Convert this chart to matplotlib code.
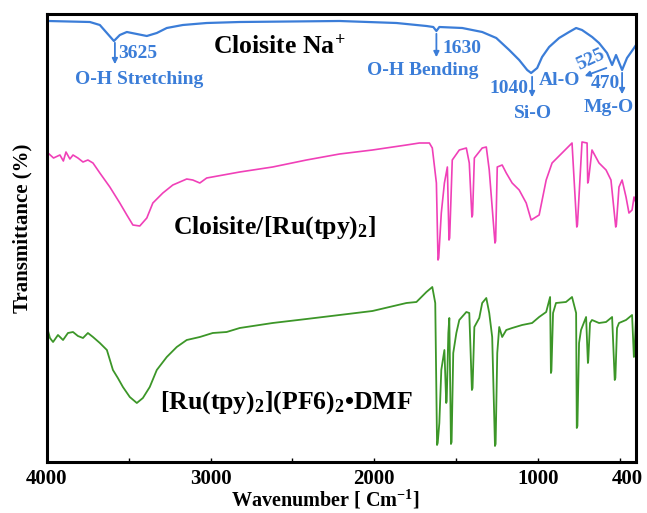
import matplotlib
matplotlib.use("Agg")
import matplotlib.pyplot as plt
import matplotlib.transforms as mtransforms
from matplotlib.ticker import FixedLocator

plt.rcParams['font.family'] = ['Liberation Serif', 'DejaVu Serif']
plt.rcParams['font.weight'] = 'bold'
plt.rcParams['mathtext.fontset'] = 'custom'
plt.rcParams['mathtext.rm'] = 'Liberation Serif:bold'
plt.rcParams['mathtext.it'] = 'Liberation Serif:bold'
plt.rcParams['mathtext.bf'] = 'Liberation Serif:bold'

# ---- data (wavenumber cm^-1, offset transmittance, arbitrary units) ----
wn_cloisite = [3994, 3738, 3677, 3634, 3591, 3555, 3512, 3451, 3390, 3329, 3268, 3170,
               3024, 2822, 2212, 1864, 1681, 1639, 1620, 1602, 1462, 1340, 1254, 1175,
               1114, 1065, 1041, 1004, 974, 931, 870, 809, 766, 730, 668, 626, 577,
               546, 522, 485, 455, 412, 400]
t_cloisite = [442, 441, 438, 430, 422, 428, 431, 429, 427, 430, 435, 438,
              440, 441, 442, 440, 437, 436, 432, 436, 435, 431, 425, 413,
              403, 393, 390, 395, 406, 416, 425, 431, 435, 433, 426, 420, 410,
              398, 408, 393, 405, 415, 418]

wn_ru_clay = [3994, 3960, 3921, 3900, 3884, 3860, 3841, 3811, 3780, 3750, 3719, 3677,
              3616, 3555, 3512, 3475, 3433, 3390, 3353, 3292, 3231, 3146, 3109, 3066,
              3024, 2822, 2621, 2414, 2212, 2011, 1803, 1724, 1663, 1645, 1620, 1610,
              1606, 1590, 1571, 1553, 1543, 1539, 1523, 1480, 1437, 1419, 1403, 1399,
              1388, 1340, 1315, 1297, 1262, 1258, 1248, 1218, 1193, 1157, 1114, 1071,
              1041, 992, 949, 913, 852, 791, 762, 758, 730, 699, 695, 691, 669, 626,
              583, 553, 524, 520, 504, 485, 461, 443, 424, 412, 400]
t_ru_clay = [310, 305, 308, 302, 311, 304, 308, 305, 301, 303, 300, 290,
             276, 260, 248, 238, 237, 245, 260, 270, 278, 284, 283, 280,
             285, 291, 296, 303, 309, 313, 318, 320, 320, 315, 280, 203,
             205, 250, 280, 296, 223, 225, 303, 313, 315, 300, 246, 248,
             305, 315, 316, 293, 220, 222, 296, 298, 290, 280, 273, 260,
             243, 248, 283, 300, 310, 320, 236, 238, 321, 320, 280, 282, 313, 300,
             293, 283, 236, 238, 276, 283, 266, 250, 253, 266, 260]

wn_ru_complex = [4000, 3982, 3963, 3933, 3902, 3872, 3841, 3811, 3780, 3750, 3719, 3677,
                 3634, 3597, 3567, 3536, 3494, 3451, 3414, 3372, 3329, 3268, 3207, 3146,
                 3066, 2987, 2902, 2822, 2621, 2414, 2212, 2011, 1803, 1742, 1681, 1645,
                 1627, 1616, 1612, 1602, 1590, 1571, 1560, 1557, 1547, 1541, 1531, 1527,
                 1517, 1498, 1480, 1437, 1419, 1403, 1399, 1388, 1358, 1340, 1315, 1297,
                 1279, 1262, 1258, 1248, 1236, 1218, 1193, 1157, 1096, 1035, 992, 949,
                 925, 920, 917, 907, 889, 828, 791, 766, 762, 758, 748, 736, 705,
                 694, 692, 681, 669, 626, 583, 546, 530, 526, 516, 504, 461, 424,
                 413, 410, 400]
t_ru_complex = [136, 125, 121, 128, 123, 130, 131, 127, 125, 130, 126, 120,
                113, 93, 85, 76, 66, 60, 65, 76, 93, 106, 116, 123,
                126, 130, 131, 135, 140, 144, 148, 152, 160, 161, 171, 176,
                160, 18, 20, 40, 93, 113, 60, 62, 130, 145, 19, 21,
                110, 130, 143, 151, 150, 73, 75, 136, 145, 160, 165, 150,
                126, 17, 19, 110, 136, 126, 133, 135, 138, 140, 146, 151,
                166, 90, 92, 150, 160, 161, 166, 150, 35, 37, 120, 133, 146,
                100, 102, 140, 143, 140, 141, 146, 83, 85, 135, 140, 143, 148,
                106, 108, 145]

x_ticks = [4000, 3000, 2000, 1000, 400]
x_minor = [3500, 2500, 1500, 500]

fig = plt.figure(figsize=(6.47, 5.13), dpi=100)
ax = fig.add_axes([47/647, 51/513, 589/647, 448/513])

blue = '#3B7DD8'
ax.plot(wn_cloisite, t_cloisite, color=blue, lw=1.6)
ax.plot(wn_ru_clay, t_ru_clay, color='#F040B8', lw=1.2)
ax.plot(wn_ru_complex, t_ru_complex, color='#3C9628', lw=1.3)

ax.set_xlim(4000, 400)
ax.set_ylim(1, 449)
ax.set_yticks([])
ax.xaxis.set_major_locator(FixedLocator(x_ticks))
ax.xaxis.set_minor_locator(FixedLocator(x_minor))
ax.set_xticklabels([str(v) for v in x_ticks])
ax.tick_params(axis='x', which='both', direction='in', length=3, width=1,
               labelsize=15, pad=5)
for s in ax.spines.values():
    s.set_linewidth(2.2)

# shift the last tick label ("400") slightly left so it stays inside the figure
last = ax.get_xticklabels()[-1]
last.set_transform(last.get_transform() +
                   mtransforms.ScaledTranslation(-9/100, 0, fig.dpi_scale_trans))

# annotations for Cloisite Na+
tfs = 14
ak = dict(arrowstyle='-|>', color=blue, lw=1.3, mutation_scale=8)
ax.annotate('', xy=(3585, 396), xytext=(3585, 423), arrowprops=ak)
ax.annotate('', xy=(1620, 403), xytext=(1620, 432), arrowprops=ak)
ax.annotate('', xy=(1035, 363), xytext=(1035, 389), arrowprops=ak)
ax.annotate('', xy=(730, 386), xytext=(565, 396), arrowprops=ak)
ax.annotate('', xy=(485, 366), xytext=(485, 393), arrowprops=ak)

ax.text(3567, 410, '3625', color=blue, fontsize=tfs, ha='left', va='center')
ax.text(3829, 384, 'O-H Stretching', color=blue, fontsize=tfs, ha='left', va='center')
ax.text(1584, 415, '1630', color=blue, fontsize=tfs, ha='left', va='center')
ax.text(2047, 393, 'O-H Bending', color=blue, fontsize=tfs, ha='left', va='center')
ax.text(1297, 375, '1040', color=blue, fontsize=tfs, ha='left', va='center')
ax.text(1144, 350, 'Si-O', color=blue, fontsize=tfs, ha='left', va='center')
ax.text(992, 383, 'Al-O', color=blue, fontsize=tfs, ha='left', va='center')
ax.text(675, 403, '525', color=blue, fontsize=tfs, ha='center', va='center', rotation=25)
ax.text(675, 380, '470', color=blue, fontsize=tfs, ha='left', va='center')
ax.text(717, 356, 'Mg-O', color=blue, fontsize=tfs, ha='left', va='center')

ax.text(2987, 416, r'Cloisite Na$^{+}$', color='black', fontsize=18.5, ha='left', va='center')
ax.text(3231, 235, r'Cloisite/[Ru(tpy)$_{2}$]', color='black', fontsize=18.5, ha='left', va='center')
ax.text(3310, 60, r'[Ru(tpy)$_{2}$](PF6)$_{2}$•DMF', color='black', fontsize=18.5,
        ha='left', va='center')

fig.text(325/647, 1 - 500/513, r'Wavenumber [ Cm$^{-1}$]', fontsize=14.5, ha='center', va='center')
fig.text(22/647, 1 - 228/513, 'Transmittance (%)', fontsize=15, ha='center', va='center',
         rotation=90)

fig.savefig('out.png', dpi=100)
